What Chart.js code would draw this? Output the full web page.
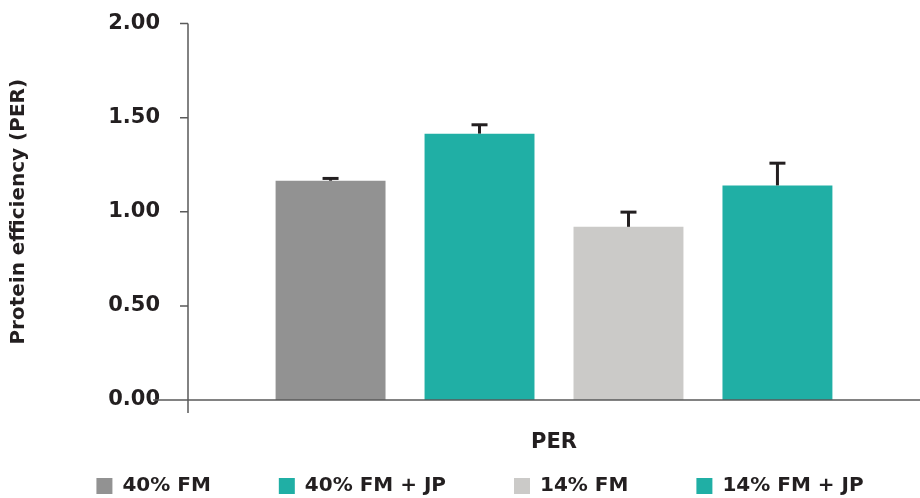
<!DOCTYPE html>
<html>
<head>
<meta charset="utf-8">
<script src="https://cdn.jsdelivr.net/npm/chart.js@4"></script>
<style>
  html, body { margin: 0; padding: 0; background: #fff; }
  #wrap { width: 920px; height: 498px; }
</style>
</head>
<body>
<div id="wrap"><canvas id="perChart"></canvas></div>
<script>
    const categories = ['PER'];
    const seriesNames = ['40% FM', '40% FM + JP', '14% FM', '14% FM + JP'];
    const perValues = [1.165, 1.415, 0.92, 1.14];
    const perErrors = [0.012, 0.047, 0.078, 0.118];
    const seriesColors = ['#929292', '#20afa5', '#cbcac8', '#20afa5'];
    const yTicks = [0, 0.5, 1, 1.5, 2];

    const ink = '#231f20';
    const fontFamily = '"DejaVu Sans", sans-serif';
    const legendGap = 68;

    // error bars (upper half only) + axis lines
    const decorations = {
        id: 'decorations',
        afterLayout(chart) {
            // legend: wide horizontal spacing without the matching vertical space
            const lg = chart.legend;
            lg.top = 489 - 13 - legendGap;
            lg.left += 20;
            lg.right += 20;
        },
        afterDatasetsDraw(chart) {
            const ctx = chart.ctx;
            const y = chart.scales.y;
            const area = chart.chartArea;
            ctx.save();

            chart.data.datasets.forEach((ds, i) => {
                const bar = chart.getDatasetMeta(i).data[0];
                const top = y.getPixelForValue(ds.data[0]);
                const capY = y.getPixelForValue(ds.data[0] + perErrors[i]);
                ctx.strokeStyle = ink;
                ctx.lineWidth = 3;
                ctx.beginPath();
                ctx.moveTo(bar.x, top);
                ctx.lineTo(bar.x, capY);
                ctx.stroke();
                ctx.beginPath();
                ctx.moveTo(bar.x - 8, capY);
                ctx.lineTo(bar.x + 8, capY);
                ctx.stroke();
            });

            ctx.strokeStyle = '#5a5a5a';
            ctx.lineWidth = 1.5;
            const y0 = y.getPixelForValue(0);
            ctx.beginPath();
            ctx.moveTo(area.left, y.getPixelForValue(2));
            ctx.lineTo(area.left, y0 + 13);
            ctx.moveTo(area.left - 35, y0);
            ctx.lineTo(area.right, y0);
            yTicks.forEach(t => {
                const p = y.getPixelForValue(t);
                ctx.moveTo(area.left - 8, p);
                ctx.lineTo(area.left, p);
            });
            ctx.stroke();
            ctx.restore();
        }
    };

    const dataBar = {
        labels: categories,
        datasets: seriesNames.map((name, i) => ({
            label: name,
            data: [perValues[i]],
            backgroundColor: seriesColors[i],
            borderWidth: 0,
            barPercentage: 0.738,
            categoryPercentage: 0.814
        }))
    };

    const configBar = {
        type: 'bar',
        data: dataBar,
        plugins: [decorations],
        options: {
            responsive: true,
            maintainAspectRatio: false,
            animation: false,
            layout: { padding: { top: 0, right: 0, bottom: 0, left: 0 } },
            plugins: {
                tooltip: { enabled: false },
                legend: {
                    position: 'bottom',
                    maxHeight: 40,
                    labels: {
                        color: ink,
                        boxWidth: 16,
                        boxHeight: 16,
                        padding: legendGap,
                        font: { family: fontFamily, size: 20, weight: 'bold' }
                    }
                }
            },
            scales: {
                x: {
                    afterFit: (s) => { s.height = 58; },
                    grid: { display: false },
                    border: { display: false },
                    ticks: {
                        color: ink,
                        padding: 22,
                        font: { family: fontFamily, size: 21, weight: 'bold' }
                    }
                },
                y: {
                    min: 0,
                    max: 2,
                    afterFit: (s) => {
                        s.width = 188;
                        s.paddingTop = 23.5;
                        s.paddingBottom = 12;
                    },
                    grid: { display: false },
                    border: { display: false },
                    afterBuildTicks: (s) => { s.ticks = yTicks.map(v => ({ value: v })); },
                    ticks: {
                        color: ink,
                        padding: 20,
                        callback: (v) => Number(v).toFixed(2),
                        font: { family: fontFamily, size: 21, weight: 'bold' }
                    },
                    title: {
                        display: true,
                        text: 'Protein efficiency (PER)',
                        color: ink,
                        padding: { top: 7, bottom: 0 },
                        font: { family: fontFamily, size: 20, weight: 'bold' }
                    }
                }
            }
        }
    };

    const myChartBar = new Chart(
        document.getElementById('perChart'),
        configBar
    );
</script>
</body>
</html>
